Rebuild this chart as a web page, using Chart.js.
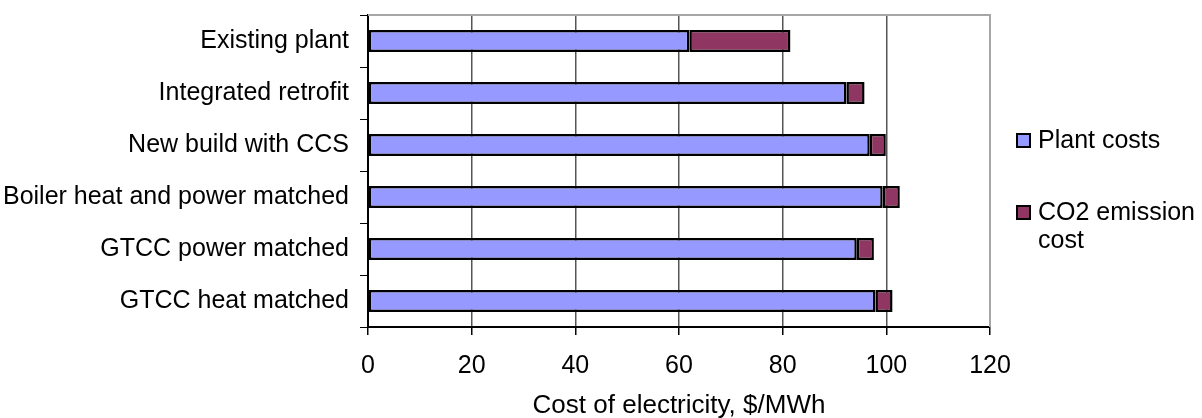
<!DOCTYPE html>
<html>
<head>
<meta charset="utf-8">
<script src="https://cdn.jsdelivr.net/npm/chart.js@4.4.1/dist/chart.umd.min.js"></script>
<style>
  html, body { margin: 0; padding: 0; background: #fff; }
  #wrap { position: relative; width: 1202px; height: 418px; }
</style>
</head>
<body>
<div id="wrap"><canvas id="c" width="1202" height="418"></canvas></div>
<script>
// Cost of electricity by plant configuration, $/MWh
const categories = [
  'Existing plant',
  'Integrated retrofit',
  'New build with CCS',
  'Boiler heat and power matched',
  'GTCC power matched',
  'GTCC heat matched'
];
const plantCosts = [62, 92.3, 96.8, 99.3, 94.3, 97.9];
const co2Costs   = [19.5, 3.5, 3.1, 3.3, 3.3, 3.3];
const seriesNames = ['Plant costs', ['CO2 emission', 'cost']];
const xTicks = [0, 20, 40, 60, 80, 100, 120];
const axisTitle = 'Cost of electricity, $/MWh';

const FONT = '"Liberation Sans", Arial, sans-serif';
const FS = 25;

// Grey frame on top/right of the plot area plus a right-hand legend
const framePlugin = {
  id: 'frameAndLegend',
  beforeDatasetsDraw(chart) {
    const { ctx, chartArea: a } = chart;
    ctx.save();
    ctx.strokeStyle = '#a6a6a6';
    ctx.lineWidth = 2;
    ctx.beginPath();
    ctx.moveTo(a.left, a.top);
    ctx.lineTo(a.right, a.top);
    ctx.lineTo(a.right, a.bottom);
    ctx.stroke();
    ctx.restore();
  },
  afterDraw(chart) {
    const { ctx } = chart;
    const items = chart.data.datasets;
    const rows = [140, 212];
    ctx.save();
    ctx.font = FS + 'px ' + FONT;
    ctx.textBaseline = 'middle';
    items.forEach((ds, i) => {
      const y = rows[i];
      ctx.fillStyle = ds.backgroundColor;
      ctx.fillRect(1017, y - 6, 13, 13);
      ctx.strokeStyle = '#000';
      ctx.lineWidth = 2;
      ctx.strokeRect(1017, y - 6, 13, 13);
      ctx.fillStyle = '#000';
      const lines = Array.isArray(ds.label) ? ds.label : [ds.label];
      lines.forEach((t, k) => ctx.fillText(t, 1038, y + 1 + k * 28));
    });
    ctx.restore();
  }
};

new Chart(document.getElementById('c'), {
  type: 'bar',
  data: {
    labels: categories,
    datasets: [
      {
        label: seriesNames[0],
        data: plantCosts,
        backgroundColor: '#9699ff',
        borderColor: '#000',
        borderWidth: 2.5,
        borderSkipped: false,
        barPercentage: 0.42,
        categoryPercentage: 1
      },
      {
        label: seriesNames[1],
        data: co2Costs,
        backgroundColor: '#8f3662',
        borderColor: '#000',
        borderWidth: 2.5,
        borderSkipped: false,
        barPercentage: 0.42,
        categoryPercentage: 1
      }
    ]
  },
  options: {
    indexAxis: 'y',
    responsive: false,
    animation: false,
    layout: { padding: { top: 15, right: 212, left: 0, bottom: 0 } },
    plugins: {
      legend: { display: false },
      tooltip: { enabled: false }
    },
    scales: {
      x: {
        stacked: true,
        min: 0,
        max: 120,
        afterBuildTicks(scale) {
          scale.ticks = xTicks.map(v => ({ value: v }));
        },
        afterFit(scale) { scale.height = 91; },
        grid: {
          color: ctx => (ctx.tick && ctx.tick.value === 120) ? '#a6a6a6' : '#555',
          lineWidth: 1.5,
          tickLength: 8,
          tickColor: '#000',
          drawTicks: true
        },
        border: { color: '#000', width: 2 },
        ticks: {
          color: '#000',
          font: { family: FONT, size: FS },
          padding: 16,
          maxRotation: 0
        },
        title: {
          display: true,
          text: axisTitle,
          color: '#000',
          font: { family: FONT, size: 26 },
          padding: { top: 8, bottom: -3 }
        }
      },
      y: {
        stacked: true,
        afterFit(scale) {
          scale.width = 368;
          scale.paddingTop = 0;
          scale.paddingBottom = 0;
        },
        grid: {
          offset: true,
          drawOnChartArea: false,
          tickLength: 8,
          tickColor: '#000'
        },
        border: { color: '#000', width: 2 },
        ticks: {
          color: '#000',
          font: { family: FONT, size: FS },
          padding: 11
        }
      }
    }
  },
  plugins: [framePlugin]
});
</script>
</body>
</html>
